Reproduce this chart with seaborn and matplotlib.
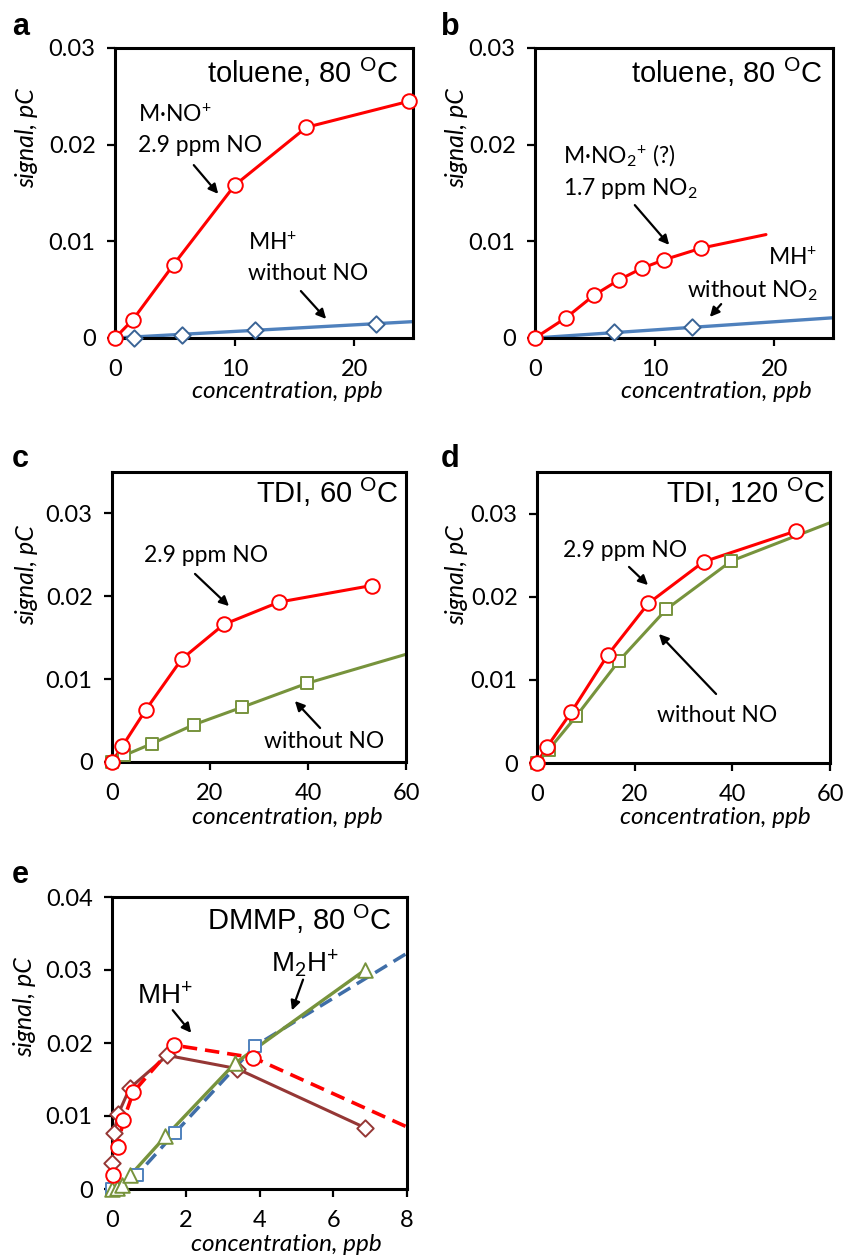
import matplotlib
matplotlib.use("Agg")
import matplotlib.pyplot as plt
import seaborn as sns

# ---- data ----
# a: toluene, 80 C
a_no_x = [0, 1.5, 4.9, 10.0, 16.0, 24.6]
a_no_y = [0, 0.0019, 0.0076, 0.0158, 0.0218, 0.0245]
a_mh_x = [1.6, 5.6, 11.7, 21.8]
a_mh_y = [0.0, 0.0003, 0.0008, 0.0015]
a_fit_x = [0, 25]
a_fit_y = [0, 0.0017]

# b: toluene, 80 C with NO2
b_no2_x = [0, 2.6, 4.9, 7.0, 8.9, 10.8, 13.9]
b_no2_y = [0, 0.0021, 0.0044, 0.0060, 0.0072, 0.0081, 0.0093]
b_no2_end_x = [19.3]
b_no2_end_y = [0.0107]
b_mh_x = [6.6, 13.1]
b_mh_y = [0.0006, 0.0011]
b_fit_x = [0, 25]
b_fit_y = [0, 0.0021]

# c: TDI, 60 C
c_no_x = [0, 2.1, 6.9, 14.2, 22.8, 34.1, 53.0]
c_no_y = [0, 0.0019, 0.0063, 0.0124, 0.0166, 0.0193, 0.0213]
c_wo_x = [0, 2.5, 8.1, 16.7, 26.5, 39.8]
c_wo_y = [0, 0.0008, 0.0022, 0.0045, 0.0066, 0.0095]
c_wo_end_x = [60]
c_wo_end_y = [0.0130]

# d: TDI, 120 C
d_no_x = [0, 2.0, 7.0, 14.5, 22.8, 34.1, 53.0]
d_no_y = [0, 0.0019, 0.0061, 0.0130, 0.0192, 0.0242, 0.0279]
d_wo_x = [0, 2.4, 8.0, 16.8, 26.5, 39.8]
d_wo_y = [0, 0.0016, 0.0056, 0.0123, 0.0185, 0.0243]
d_wo_end_x = [60]
d_wo_end_y = [0.0289]

# e: DMMP, 80 C
e_mh_x = [0.02, 0.15, 0.31, 0.58, 1.69, 3.83]
e_mh_y = [0.0019, 0.0057, 0.0094, 0.0133, 0.0197, 0.0180]
e_mh_end_x = [8.0]
e_mh_end_y = [0.0085]
e_br_x = [0, 0.05, 0.17, 0.48, 1.5, 3.38, 6.86]
e_br_y = [0.0036, 0.0077, 0.0103, 0.0138, 0.0183, 0.0165, 0.0084]
e_sq_x = [0, 0.15, 0.67, 1.71, 3.88]
e_sq_y = [0, 0.0002, 0.0019, 0.0077, 0.0196]
e_sq_end_x = [8.0]
e_sq_end_y = [0.0323]
e_tri_x = [0, 0.13, 0.27, 0.5, 1.45, 3.33, 6.86]
e_tri_y = [0, 0.0002, 0.0005, 0.0019, 0.0072, 0.0172, 0.0300]

RED = "#FF0000"
BLUE = "#4F81BD"
BLUE_EDGE = "#3A6496"
GREEN = "#77933C"
BROWN = "#953735"

sns.set_theme(style="ticks")
plt.rcParams["font.family"] = ["Lato", "DejaVu Sans"]
plt.rcParams["mathtext.fontset"] = "custom"
plt.rcParams["mathtext.rm"] = "Lato"
plt.rcParams["mathtext.it"] = "Lato:italic"
for k in ["text.color", "axes.labelcolor", "xtick.color", "ytick.color",
          "axes.edgecolor"]:
    plt.rcParams[k] = "black"

W, H = 844, 1259
fig = plt.figure(figsize=(W / 100, H / 100), dpi=100)


def fp(x, y):
    return (x / W, 1 - y / H)


def add_ax(l, t, r, b):
    ax = fig.add_axes([l / W, 1 - b / H, (r - l) / W, (b - t) / H])
    for s in ax.spines.values():
        s.set_linewidth(2.2)
        s.set_color("black")
    ax.tick_params(axis="both", direction="out", length=6, width=1.6,
                   color="black", labelsize=17, labelcolor="black")
    ax.tick_params(axis="y", pad=8)
    ax.tick_params(axis="x", pad=9)
    ax.set_xlabel("")
    ax.set_ylabel("")
    return ax


def line(ax, x, y, color, dash=False, lw=2.2, z=2):
    ls = (0, (4, 2.2)) if dash else "-"
    sns.lineplot(x=x, y=y, ax=ax, color=color, linewidth=lw, sort=False,
                 estimator=None, linestyle=ls, zorder=z)


def pts(ax, x, y, color, marker, s, z=4):
    sns.scatterplot(x=x, y=y, ax=ax, marker=marker, s=s, facecolor="white",
                    edgecolor=color, linewidth=1.4, zorder=z, clip_on=False)


def txt(x, y, s, size=16.5, ha="left", **kw):
    fig.text(*fp(x, y), s, fontsize=size, ha=ha, va="baseline", **kw)


def arrow(tail, tip):
    fig.add_artist(matplotlib.patches.FancyArrowPatch(
        fp(*tail), fp(*tip), transform=fig.transFigure,
        arrowstyle="-|>", mutation_scale=14, color="black", lw=1.6))


def title(x, y, s):
    fig.text(*fp(x, y), s, fontsize=21, ha="right", va="baseline",
             family="Liberation Sans")


def axis_labels(xl, yl_x, yl_y):
    fig.text(*fp(*xl), "concentration, ppb", fontsize=17.5, style="italic",
             ha="center", va="baseline")
    fig.text(*fp(yl_x, yl_y), "signal, pC", fontsize=18, style="italic",
             rotation=90, ha="center", va="center")


def letter(x, y, s):
    fig.text(*fp(x, y), s, fontsize=22, fontweight="bold", ha="left",
             va="baseline", family="Liberation Sans")


DEG = r"$^{\rm O}$C"

# ---- a ----
ax = add_ax(115, 48, 413, 338)
line(ax, a_fit_x, a_fit_y, BLUE, lw=2.4)
pts(ax, a_mh_x, a_mh_y, BLUE_EDGE, "D", 70)
line(ax, a_no_x, a_no_y, RED)
pts(ax, a_no_x, a_no_y, RED, "o", 110, z=5)
ax.set_xlim(0, 24.9)
ax.set_ylim(0, 0.03)
ax.set_xticks([0, 10, 20], ["0", "10", "20"])
ax.set_yticks([0, 0.01, 0.02, 0.03], ["0", "0.01", "0.02", "0.03"])
title(398, 83, "toluene, 80 " + DEG)
txt(138, 122, r"M·NO$^{+}$")
txt(138, 152, "2.9 ppm NO")
arrow((192, 163), (220, 196))
txt(248, 250, r"MH$^{+}$")
txt(248, 280, "without NO")
arrow((299, 289), (328, 321))
axis_labels((287, 398), 27, 138)
letter(12, 35, "a")

# ---- b ----
ax = add_ax(535, 48, 833, 338)
line(ax, b_fit_x, b_fit_y, BLUE, lw=2.4)
pts(ax, b_mh_x, b_mh_y, BLUE_EDGE, "D", 70)
line(ax, b_no2_x + b_no2_end_x, b_no2_y + b_no2_end_y, RED)
pts(ax, b_no2_x, b_no2_y, RED, "o", 110, z=5)
ax.set_xlim(0, 24.9)
ax.set_ylim(0, 0.03)
ax.set_xticks([0, 10, 20], ["0", "10", "20"])
ax.set_yticks([0, 0.01, 0.02, 0.03], ["0", "0.01", "0.02", "0.03"])
title(822, 83, "toluene, 80 " + DEG)
txt(563, 163, r"M·NO$_{2}$$^{+}$ (?)")
txt(563, 195, r"1.7 ppm NO$_{2}$")
arrow((633, 203), (671, 247))
txt(817, 265, r"MH$^{+}$", ha="right")
txt(818, 297, r"without NO$_{2}$", ha="right")
arrow((723, 302), (708, 319))
axis_labels((716, 398), 457, 138)
letter(441, 35, "b")

# ---- c ----
ax = add_ax(112, 472, 406, 762)
line(ax, c_wo_x + c_wo_end_x, c_wo_y + c_wo_end_y, GREEN)
pts(ax, c_wo_x, c_wo_y, GREEN, "s", 80)
line(ax, c_no_x, c_no_y, RED)
pts(ax, c_no_x, c_no_y, RED, "o", 110, z=5)
ax.set_xlim(0, 60)
ax.set_ylim(0, 0.035)
ax.set_xticks([0, 20, 40, 60], ["0", "20", "40", "60"])
ax.set_yticks([0, 0.01, 0.02, 0.03], ["0", "0.01", "0.02", "0.03"])
title(399, 503, "TDI, 60 " + DEG)
txt(144, 562, "2.9 ppm NO")
arrow((193, 572), (231, 608))
txt(264, 748, "without NO")
arrow((322, 730), (293, 699))
axis_labels((287, 824), 27, 575)
letter(12, 467, "c")

# ---- d ----
ax = add_ax(537, 472, 830, 763)
line(ax, d_wo_x + d_wo_end_x, d_wo_y + d_wo_end_y, GREEN)
pts(ax, d_wo_x, d_wo_y, GREEN, "s", 80)
line(ax, d_no_x, d_no_y, RED)
pts(ax, d_no_x, d_no_y, RED, "o", 110, z=5)
ax.set_xlim(0, 60)
ax.set_ylim(0, 0.035)
ax.set_xticks([0, 20, 40, 60], ["0", "20", "40", "60"])
ax.set_yticks([0, 0.01, 0.02, 0.03], ["0", "0.01", "0.02", "0.03"])
title(825, 503, "TDI, 120 " + DEG)
txt(563, 557, "2.9 ppm NO")
arrow((627, 565), (650, 587))
txt(657, 722, "without NO")
arrow((718, 696), (657, 632))
axis_labels((715, 824), 457, 575)
letter(441, 467, "d")

# ---- e ----
ax = add_ax(112, 897, 407, 1189)
line(ax, e_sq_x + e_sq_end_x, e_sq_y + e_sq_end_y, "#3F6EA8", dash=True,
     lw=2.5, z=2)
line(ax, e_br_x, e_br_y, BROWN, z=2.2)
line(ax, e_mh_x + e_mh_end_x, e_mh_y + e_mh_end_y, RED, dash=True,
     lw=2.6, z=2.4)
line(ax, e_tri_x, e_tri_y, GREEN, lw=2.4, z=2.6)
pts(ax, e_sq_x, e_sq_y, BLUE, "s", 80, z=3)
pts(ax, e_br_x, e_br_y, BROWN, "D", 70, z=3.5)
pts(ax, e_tri_x, e_tri_y, GREEN, "^", 110, z=4)
pts(ax, e_mh_x, e_mh_y, RED, "o", 110, z=5)
ax.set_xlim(0, 8)
ax.set_ylim(0, 0.04)
ax.set_xticks([0, 2, 4, 6, 8], ["0", "2", "4", "6", "8"])
ax.set_yticks([0, 0.01, 0.02, 0.03, 0.04],
              ["0", "0.01", "0.02", "0.03", "0.04"])
title(392, 930, "DMMP, 80 " + DEG)
txt(137, 1004, r"MH$^{+}$", size=20, family="Liberation Sans")
arrow((171, 1008), (193, 1035))
txt(271, 972, r"M$_{2}$H$^{+}$", size=20, family="Liberation Sans")
arrow((304, 977), (291, 1013))
axis_labels((286, 1251), 25, 1007)
letter(12, 883, "e")

fig.savefig("out.png", dpi=100, facecolor="white")
